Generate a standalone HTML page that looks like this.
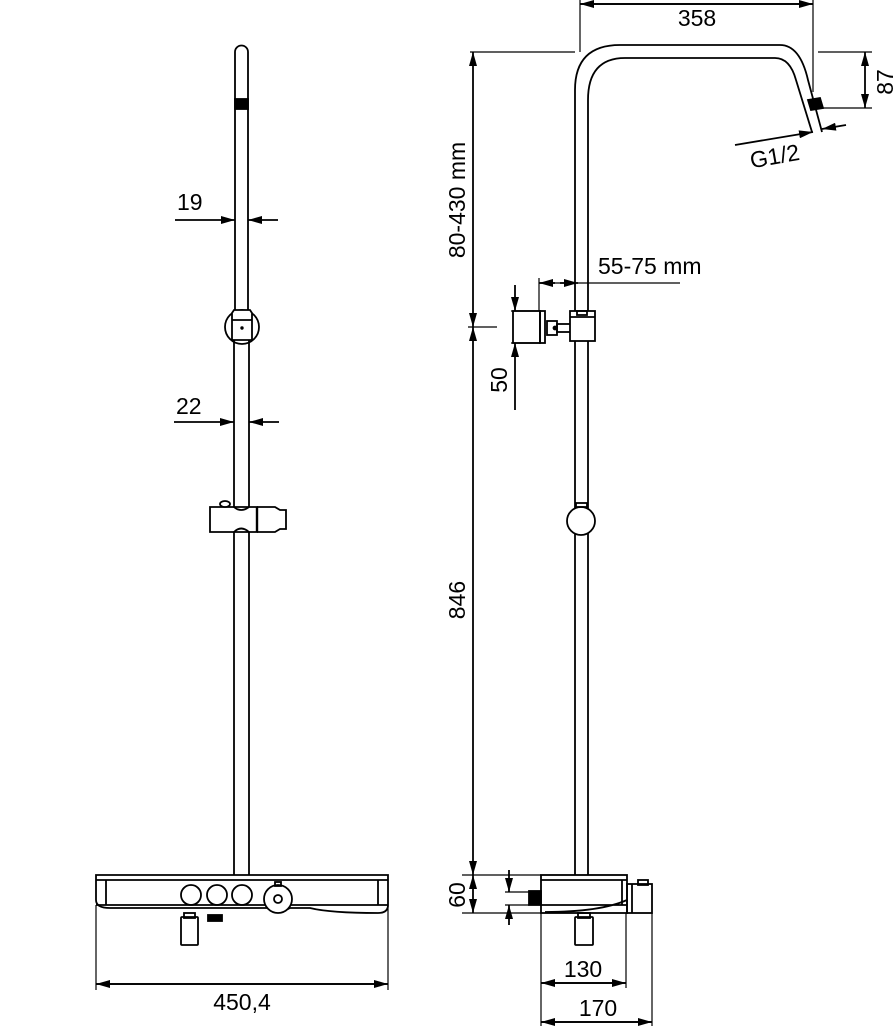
<!DOCTYPE html>
<html><head><meta charset="utf-8"><style>
html,body{margin:0;padding:0;background:#fff}
svg{display:block}
text{font-family:"Liberation Sans",sans-serif;font-size:23px;fill:#000}
</style></head><body>
<svg width="896" height="1032" viewBox="0 0 896 1032" xmlns="http://www.w3.org/2000/svg">
<defs>
<marker id="a" markerWidth="14" markerHeight="8" refX="14" refY="4" orient="auto" markerUnits="userSpaceOnUse"><path d="M0,0 L14,4 L0,8 Z" fill="#000"/></marker>
</defs>
<g stroke="#000" stroke-width="1.8" fill="none">
<!-- LEFT VIEW -->
<path d="M235,313 V52 A6.5,6.5 0 0 1 248,52 V313"/>
<rect x="235" y="99" width="13" height="10" fill="#000"/>
<line x1="175" y1="220" x2="235" y2="220" marker-end="url(#a)"/>
<line x1="278" y1="220" x2="248" y2="220" marker-end="url(#a)"/>
<circle cx="242" cy="327" r="17" fill="#fff"/>
<path d="M232,313 L234,310 H250 L252,313 V340 H232 Z" fill="#fff"/>
<line x1="232" y1="320" x2="252" y2="320"/>
<circle cx="242" cy="328" r="0.8" fill="#000"/>
<line x1="234" y1="340" x2="234" y2="507"/>
<line x1="249" y1="340" x2="249" y2="507"/>
<line x1="174" y1="422" x2="234" y2="422" marker-end="url(#a)"/>
<line x1="279" y1="422" x2="249" y2="422" marker-end="url(#a)"/>
<path d="M210,507 H257 V532 H210 Z" fill="#fff"/>
<path d="M234,507 Q241,513 249,507"/>
<path d="M234,532 Q241,525 249,532"/>
<ellipse cx="225" cy="504" rx="5" ry="3" fill="#fff"/>
<path d="M257,507 H275 L280,510 H286 V529 H280 L275,532 H257"/>
<line x1="257" y1="507" x2="257" y2="532" stroke-width="2.4"/>
<line x1="234" y1="532" x2="234" y2="875"/>
<line x1="249" y1="532" x2="249" y2="875"/>
<!-- console left -->
<path d="M96,875 H388 V905 Q388,913 378,913 Q330,913 310,908 L290,908 Q280,914 268,908 L110,908 Q96,908 96,900 Z" fill="#fff"/>
<line x1="96" y1="880" x2="388" y2="880"/>
<line x1="106" y1="880" x2="106" y2="905"/>
<line x1="378" y1="880" x2="378" y2="905"/>
<line x1="96" y1="905" x2="388" y2="905"/>
<circle cx="191" cy="895" r="10"/>
<circle cx="217" cy="895" r="10"/>
<circle cx="242" cy="895" r="10"/>
<circle cx="278" cy="899" r="14" fill="#fff"/>
<circle cx="278" cy="899" r="4"/>
<rect x="275" y="882" width="6" height="4"/>
<rect x="181" y="917" width="17" height="28" rx="1"/>
<rect x="184" y="913" width="11" height="5"/>
<rect x="208" y="915" width="14" height="6" fill="#000"/>
<line x1="96" y1="905" x2="96" y2="990" stroke-width="1.2"/>
<line x1="388" y1="905" x2="388" y2="990" stroke-width="1.2"/>
<line x1="96" y1="984" x2="388" y2="984" marker-end="url(#a)"/>
<line x1="388" y1="984" x2="96" y2="984" marker-end="url(#a)"/>

<!-- RIGHT VIEW pipe -->
<path d="M575,313 V90 Q575,45 620,45 H780 Q800,45 808,80 L822,132"/>
<path d="M588,313 V100 Q588,58 625,58 H775 Q790,58 796,80 L812,132"/>
<path d="M808,100 L820,98 L823,108 L811,110 Z" fill="#000"/>
<line x1="580" y1="0" x2="580" y2="52" stroke-width="1.2"/>
<line x1="813" y1="0" x2="813" y2="92" stroke-width="1.2"/>
<line x1="580" y1="4" x2="813" y2="4" marker-end="url(#a)"/>
<line x1="813" y1="4" x2="580" y2="4" marker-end="url(#a)"/>
<line x1="470" y1="52" x2="575" y2="52" stroke-width="1.2"/>
<line x1="818" y1="52" x2="872" y2="52" stroke-width="1.2"/>
<line x1="822" y1="108" x2="872" y2="108" stroke-width="1.2"/>
<line x1="865" y1="80" x2="865" y2="52" marker-end="url(#a)"/>
<line x1="865" y1="80" x2="865" y2="108" marker-end="url(#a)"/>
<line x1="735" y1="145" x2="813" y2="132" marker-end="url(#a)"/>
<line x1="846" y1="125" x2="822" y2="129" marker-end="url(#a)"/>
<!-- 80-430 -->
<line x1="473" y1="190" x2="473" y2="52" marker-end="url(#a)"/>
<line x1="473" y1="190" x2="473" y2="327" marker-end="url(#a)"/>
<line x1="468" y1="327" x2="497" y2="327" stroke-width="1.2"/>
<line x1="473" y1="600" x2="473" y2="327" marker-end="url(#a)"/>
<line x1="473" y1="600" x2="473" y2="875" marker-end="url(#a)"/>
<line x1="473" y1="895" x2="473" y2="875" marker-end="url(#a)"/>
<line x1="473" y1="895" x2="473" y2="913" marker-end="url(#a)"/>
<line x1="462" y1="875" x2="541" y2="875" stroke-width="1.2"/>
<line x1="462" y1="913" x2="541" y2="913" stroke-width="1.2"/>
<!-- bracket -->
<line x1="539" y1="278" x2="539" y2="311" stroke-width="1.2"/>
<line x1="539" y1="283" x2="680" y2="283" stroke-width="1.2"/>
<line x1="555" y1="283" x2="539" y2="283" marker-end="url(#a)"/>
<line x1="560" y1="283" x2="578" y2="283" marker-end="url(#a)"/>
<rect x="513" y="311" width="27" height="32"/>
<rect x="540" y="311" width="5" height="32"/>
<rect x="547" y="321" width="10" height="14"/>
<circle cx="555" cy="328" r="1.5" fill="#000"/>
<rect x="557" y="324" width="14" height="8"/>
<rect x="570" y="311" width="25" height="30" fill="#fff"/>
<rect x="577" y="311" width="10" height="4"/>
<line x1="570" y1="317" x2="595" y2="317"/>
<line x1="511" y1="311" x2="540" y2="311" stroke-width="1.2"/>
<line x1="511" y1="343" x2="540" y2="343" stroke-width="1.2"/>
<line x1="515" y1="285" x2="515" y2="311" marker-end="url(#a)"/>
<line x1="515" y1="410" x2="515" y2="343" marker-end="url(#a)"/>
<line x1="575" y1="341" x2="575" y2="875"/>
<line x1="588" y1="341" x2="588" y2="875"/>
<circle cx="581" cy="521" r="14" fill="#fff"/>
<rect x="576" y="503" width="11" height="4"/>
<!-- console right -->
<rect x="541" y="875" width="86" height="38" fill="#fff"/>
<line x1="541" y1="880" x2="627" y2="880"/>
<line x1="622" y1="880" x2="622" y2="905"/>
<path d="M541,905 H627 M545,912 Q600,912 627,900"/>
<rect x="627" y="884" width="25" height="29"/>
<rect x="638" y="880" width="10" height="5"/>
<line x1="632" y1="884" x2="632" y2="913"/>
<rect x="529" y="891" width="12" height="14" fill="#000"/>
<line x1="505" y1="892" x2="529" y2="892" stroke-width="1.2"/>
<line x1="505" y1="905" x2="529" y2="905" stroke-width="1.2"/>
<line x1="509" y1="870" x2="509" y2="892" marker-end="url(#a)"/>
<line x1="509" y1="925" x2="509" y2="905" marker-end="url(#a)"/>
<rect x="575" y="917" width="18" height="28" rx="1"/>
<rect x="578" y="913" width="12" height="5"/>
<line x1="541" y1="913" x2="541" y2="1026" stroke-width="1.2"/>
<line x1="626" y1="913" x2="626" y2="988" stroke-width="1.2"/>
<line x1="652" y1="913" x2="652" y2="1026" stroke-width="1.2"/>
<line x1="541" y1="983" x2="626" y2="983" marker-end="url(#a)"/>
<line x1="626" y1="983" x2="541" y2="983" marker-end="url(#a)"/>
<line x1="541" y1="1022" x2="652" y2="1022" marker-end="url(#a)"/>
<line x1="652" y1="1022" x2="541" y2="1022" marker-end="url(#a)"/>
</g>
<text x="177" y="210">19</text>
<text x="176" y="414">22</text>
<text x="242" y="1010" text-anchor="middle">450,4</text>
<text x="697" y="26" text-anchor="middle">358</text>
<text transform="translate(893,82) rotate(-90)" text-anchor="middle">87</text>
<text transform="translate(776,164) rotate(-10)" text-anchor="middle">G1/2</text>
<text transform="translate(465,200) rotate(-90)" text-anchor="middle">80-430 mm</text>
<text x="598" y="274">55-75 mm</text>
<text transform="translate(507,380) rotate(-90)" text-anchor="middle">50</text>
<text transform="translate(465,600) rotate(-90)" text-anchor="middle">846</text>
<text transform="translate(465,895) rotate(-90)" text-anchor="middle">60</text>
<text x="583" y="977" text-anchor="middle">130</text>
<text x="598" y="1016" text-anchor="middle">170</text>
</svg>
</body></html>
